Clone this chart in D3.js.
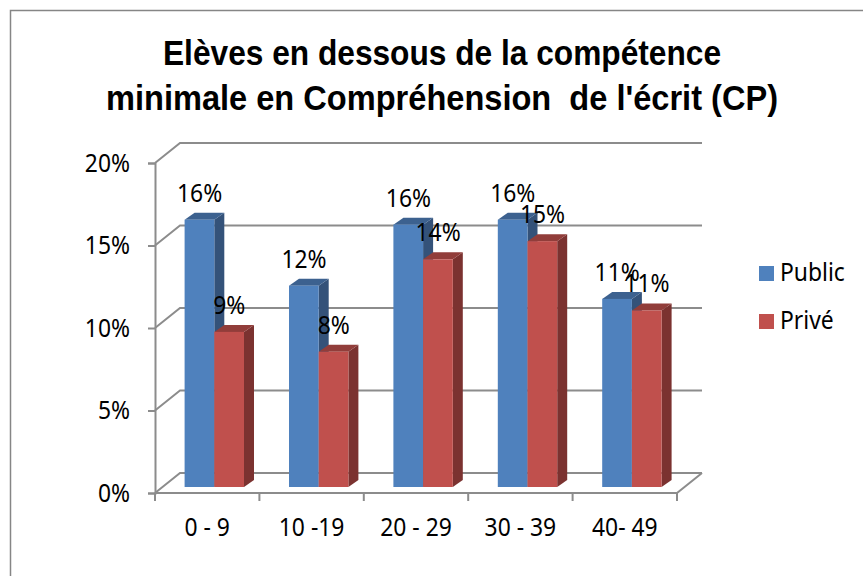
<!DOCTYPE html>
<html>
<head>
<meta charset="utf-8">
<script src="https://cdn.jsdelivr.net/npm/d3@7"></script>
<style>
  html, body { margin: 0; padding: 0; background: #fff; }
  text { font-family: "Noto Sans", sans-serif; fill: #000; white-space: pre; }
</style>
</head>
<body>
<div id="chart"></div>
<script>
//data
const categories = ["0 - 9", "10 -19", "20 - 29", "30 - 39", "40- 49"];
const seriesNames = ["Public", "Privé"];
const publicValues = [0.162, 0.122, 0.159, 0.162, 0.114];
const priveValues = [0.094, 0.082, 0.138, 0.149, 0.107];
const publicLabels = ["16%", "12%", "16%", "16%", "11%"];
const priveLabels = ["9%", "8%", "14%", "15%", "11%"];
const yTicks = [0, 0.05, 0.1, 0.15, 0.2];
const titleLines = ["Elèves en dessous de la compétence", "minimale en Compréhension  de l'écrit (CP)"];

const width = 863;
const height = 576;

const blue = { front: "#4f81bd", side: "#345279", top: "#3c618f" };
const red = { front: "#c0504d", side: "#7b3230", top: "#913d3a" };
const gridColor = "#8c8c8c";

//depth offsets of the fake 3d box
const wallDx = 25, wallDy = -20;   //back wall vs front axis
const barDx = 29.6, barDy = -6;    //bar base vs front axis
const barDepthX = 10, barDepthY = -7;

const labelSize = 26;
const labelSqueeze = 0.88; //the original text is tall and narrow

//narrow the text without changing its height
function squeeze(sel) {
  sel.each(function () {
    this.setAttribute("textLength", this.getComputedTextLength() * labelSqueeze);
    this.setAttribute("lengthAdjust", "spacingAndGlyphs");
  });
}

const svg = d3.select("#chart")
  .append("svg")
  .attr("width", width)
  .attr("height", height)
  .style("display", "block");

//frame
svg.append("path")
  .attr("d", "M10.5,576V10.5H863")
  .attr("fill", "none")
  .attr("stroke", "#868686")
  .attr("stroke-width", 1.5);

//title
svg.selectAll("text.title")
  .data(titleLines)
  .join("text")
  .attr("class", "title")
  .attr("x", 442)
  .attr("y", (d, i) => 65 + i * 45)
  .attr("text-anchor", "middle")
  .style("font-family", "'Liberation Sans', sans-serif")
  .attr("font-size", 35)
  .attr("font-weight", 700)
  .attr("textLength", (d, i) => i ? 672 : 558)
  .attr("lengthAdjust", "spacingAndGlyphs")
  .text(d => d);

//scales are on the front plane
const x = d3.scaleBand().domain(categories).range([155, 677]);
const y = d3.scaleLinear().domain([0, 0.2]).range([493, 163]);

//back wall gridlines + the side wall steps
const gridG = svg.append("g")
  .attr("fill", "none")
  .attr("stroke", gridColor)
  .attr("stroke-width", 2);

gridG.selectAll("path")
  .data(yTicks)
  .join("path")
  .attr("d", d => {
    const p = d3.path();
    p.moveTo(x.range()[0], y(d));
    p.lineTo(x.range()[0] + wallDx, y(d) + wallDy);
    p.lineTo(x.range()[1] + wallDx, y(d) + wallDy);
    return p.toString();
  });

//floor front edge and right step
const floor = d3.path();
floor.moveTo(x.range()[0], y(0));
floor.lineTo(x.range()[1], y(0));
floor.lineTo(x.range()[1] + wallDx, y(0) + wallDy);
gridG.append("path").attr("d", floor.toString());

//y axis
const yAxis = d3.axisLeft(y)
  .tickValues(yTicks)
  .tickFormat(d3.format(".0%"))
  .tickSize(7)
  .tickPadding(18);

const yG = svg.append("g")
  .attr("transform", `translate(${x.range()[0]},0)`)
  .call(yAxis);

//x axis
const xTickPos = categories.map(c => x(c)).concat(x.range()[1]);
svg.append("g")
  .selectAll("line")
  .data(xTickPos)
  .join("line")
  .attr("x1", d => d)
  .attr("x2", d => d)
  .attr("y1", y(0))
  .attr("y2", y(0) + 8)
  .attr("stroke", gridColor)
  .attr("stroke-width", 2);

svg.append("g")
  .selectAll("text")
  .data(categories)
  .join("text")
  .attr("x", d => x(d) + x.bandwidth() / 2)
  .attr("y", 536)
  .attr("text-anchor", "middle")
  .attr("font-size", labelSize)
  .text(d => d)
  .call(squeeze);

yG.selectAll(".domain, .tick line")
  .attr("stroke", gridColor)
  .attr("stroke-width", 2);
yG.selectAll(".tick text")
  .attr("font-size", labelSize)
  .attr("font-family", "Noto Sans")
  .attr("fill", "#000")
  .call(squeeze);

//bars
const barW = 29.7;
const zero = y(0) + barDy;
const rows = [];
categories.forEach((c, i) => {
  rows.push({ c, v: publicValues[i], s: 0, col: blue, label: publicLabels[i] });
  rows.push({ c, v: priveValues[i], s: 1, col: red, label: priveLabels[i] });
});

const barX = d => x(d.c) + barDx + d.s * barW;
const barTop = d => y(d.v) + barDy;

const bars = svg.append("g")
  .selectAll("g")
  .data(rows)
  .join("g");

//side face
bars.append("path")
  .attr("fill", d => d.col.side)
  .attr("d", d => {
    const r = barX(d) + barW;
    return `M${r},${zero}L${r + barDepthX},${zero + barDepthY}L${r + barDepthX},${barTop(d) + barDepthY}L${r},${barTop(d)}Z`;
  });
//top face
bars.append("path")
  .attr("fill", d => d.col.top)
  .attr("d", d => {
    const l = barX(d), t = barTop(d);
    return `M${l},${t}L${l + barDepthX},${t + barDepthY}L${l + barW + barDepthX},${t + barDepthY}L${l + barW},${t}Z`;
  });
//front face
bars.append("rect")
  .attr("x", barX)
  .attr("y", barTop)
  .attr("width", barW)
  .attr("height", d => zero - barTop(d))
  .attr("fill", d => d.col.front);

//value labels on top of everything
svg.append("g")
  .selectAll("text")
  .data(rows)
  .join("text")
  .attr("x", d => barX(d) + 15)
  .attr("y", d => barTop(d) - 18)
  .attr("text-anchor", "middle")
  .attr("font-size", labelSize)
  .text(d => d.label)
  .call(squeeze);

//legend
const legendColors = [blue.front, red.front];
const legend = svg.append("g")
  .selectAll("g")
  .data(seriesNames)
  .join("g")
  .attr("transform", (d, i) => `translate(759,${266 + i * 48})`);

legend.append("rect")
  .attr("width", 15)
  .attr("height", 15)
  .attr("fill", (d, i) => legendColors[i]);

legend.append("text")
  .attr("x", 21)
  .attr("y", 15)
  .attr("font-size", labelSize)
  .text(d => d)
  .call(squeeze);
</script>
</body>
</html>
